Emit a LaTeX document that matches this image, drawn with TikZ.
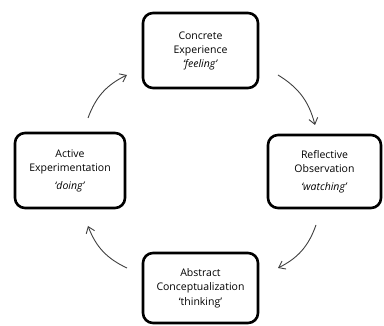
\documentclass[tikz,border=0pt]{standalone}
\usepackage{fontspec}
\setmainfont{Open Sans}
\usetikzlibrary{arrows.meta}
\begin{document}
\begin{tikzpicture}[x=1pt,y=-1pt,
  stage/.style={draw=black, line width=2.6pt, rounded corners=10pt, align=center,
    font=\fontsize{10.5}{14}\selectfont, inner sep=0pt},
  cyc/.style={draw=black!75, line width=0.9pt, -{Straight Barb[length=6pt,width=9pt,line width=0.9pt]}, bend left=22}]
\useasboundingbox (0,0) rectangle (384,326);
\node[stage, minimum width=115pt, minimum height=75pt] (ce) at (200.5,50.5) {Concrete\\Experience\\\textit{‘feeling’}};
\node[stage, minimum width=113pt, minimum height=73pt] (ro) at (324.5,171.5) {Reflective\\Observation\\[4pt]\textit{‘watching’}};
\node[stage, minimum width=115pt, minimum height=70pt] (ac) at (200.5,288) {Abstract\\Conceptualization\\[1pt]‘thinking’};
\node[stage, minimum width=110pt, minimum height=75pt] (ae) at (70,170.5) {Active\\Experimentation\\[4pt]\textit{‘doing’}};
\coordinate (a1s) at (88,118); \coordinate (a1e) at (127,75);
\coordinate (a2s) at (278,75); \coordinate (a2e) at (315,125);
\coordinate (a3s) at (316,225); \coordinate (a3e) at (278,268);
\coordinate (a4s) at (127,268); \coordinate (a4e) at (88,226);
\draw[cyc] (a1s) to (a1e);
\draw[cyc] (a2s) to (a2e);
\draw[cyc] (a3s) to (a3e);
\draw[cyc] (a4s) to (a4e);
\end{tikzpicture}
\end{document}
